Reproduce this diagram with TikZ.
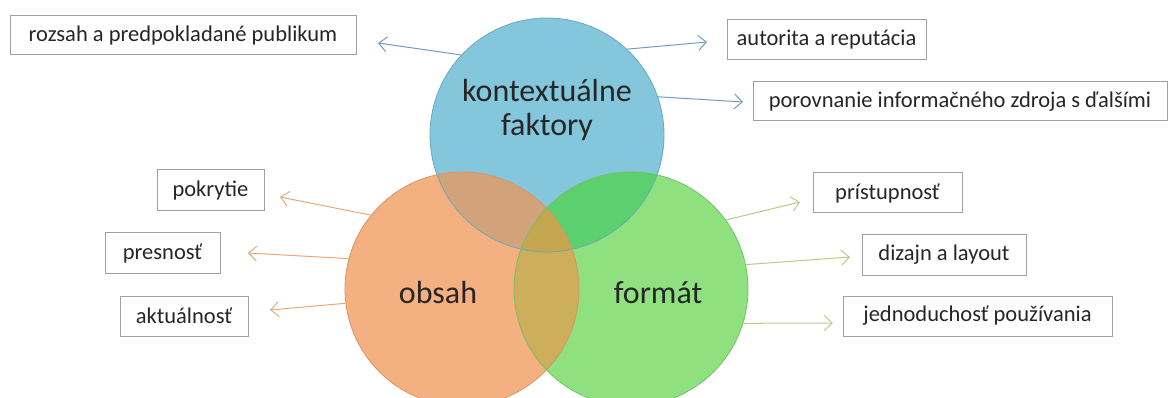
\documentclass[tikz,border=0pt]{standalone}
\usepackage{fontspec}
\setmainfont{Carlito}
\usetikzlibrary{arrows.meta}
\definecolor{cblue}{HTML}{84C6DC}
\definecolor{corange}{HTML}{F4B080}
\definecolor{cgreen}{HTML}{8FE07F}
\definecolor{cbo}{HTML}{D2A37A}
\definecolor{cbg}{HTML}{5CCF6F}
\definecolor{cog}{HTML}{CDAE5A}
\definecolor{cbog}{HTML}{C4A64E}
\definecolor{rimblue}{HTML}{6AA8BE}
\definecolor{rimorange}{HTML}{D8956A}
\definecolor{rimgreen}{HTML}{70C266}
\definecolor{arblue}{HTML}{6F9CC4}
\definecolor{arorange}{HTML}{E8A878}
\definecolor{argreen}{HTML}{B6CC8A}
\definecolor{boxline}{HTML}{A0A0A0}
\definecolor{ink}{HTML}{262626}
\tikzset{
  itembox/.style={draw=boxline, line width=1pt, fill=white, text=ink,
    font=\fontsize{22.5}{27}\selectfont, inner sep=0pt, minimum height=40pt},
  ring/.style={circle, inner sep=0pt, minimum size=234pt},
  bigtext/.style={text=ink, font=\fontsize{32}{38}\selectfont, align=center},
  link/.style={line width=1pt, -{Straight Barb[length=8pt,width=15pt,line width=1pt]}},
}
\begin{document}
\begin{tikzpicture}[x=1pt,y=-1pt]
\useasboundingbox (0,0) rectangle (1170,398);
\clip (0,0) rectangle (1170,398);

% circle centres and radius
\coordinate (B) at (547,135);
\coordinate (O) at (462,289);
\coordinate (G) at (631,289);
\def\rr{117}

% plain discs
\fill[cblue] (B) circle (\rr);
\fill[corange] (O) circle (\rr);
\fill[cgreen] (G) circle (\rr);
% overlaps
\begin{scope}
  \clip (B) circle (\rr);
  \fill[cbo] (O) circle (\rr);
  \fill[cbg] (G) circle (\rr);
\end{scope}
\begin{scope}
  \clip (O) circle (\rr);
  \fill[cog] (G) circle (\rr);
\end{scope}
\begin{scope}
  \clip (B) circle (\rr);
  \clip (O) circle (\rr);
  \fill[cbog] (G) circle (\rr);
\end{scope}

% outlined ring nodes
\node[ring, draw=rimblue, line width=0.8pt] (blue) at (B) {};
\node[ring, draw=rimorange, line width=0.8pt] (orange) at (O) {};
\node[ring, draw=rimgreen, line width=0.8pt] (green) at (G) {};

\node[bigtext] (tk) at (547,110) {kontextuálne\\[-4pt]faktory};
\node[bigtext] (to) at (438,293) {obsah};
\node[bigtext] (tf) at (658,293) {formát};

% item boxes
\node[itembox, minimum width=346pt, minimum height=39pt] (rozsah) at (183,35.5) {rozsah a predpokladané publikum};
\node[itembox, minimum width=199pt] (autorita) at (826.5,40) {autorita a reputácia};
\node[itembox, minimum width=414pt, minimum height=39pt] (porov) at (960,101.5) {porovnanie informačného zdroja s ďalšími};
\node[itembox, minimum width=107pt, minimum height=41pt] (pokr) at (210.5,190.5) {pokrytie};
\node[itembox, minimum width=115pt] (presn) at (162.5,253) {presnosť};
\node[itembox, minimum width=128pt] (aktu) at (184,316) {aktuálnosť};
\node[itembox, minimum width=149pt] (prist) at (887.5,193) {prístupnosť};
\node[itembox, minimum width=164pt] (dizajn) at (944,255) {dizajn a layout};
\node[itembox, minimum width=269pt] (jedn) at (977.5,316) {jednoduchosť používania};

% arrow tips in front of the boxes
\coordinate (tRozsah) at (378,43);
\coordinate (tAutor) at (707,42);
\coordinate (tPorov) at (743,102);
\coordinate (tPokr) at (280,197);
\coordinate (tPresn) at (248,253);
\coordinate (tAktu) at (270,310);
\coordinate (tPrist) at (800,202);
\coordinate (tDizajn) at (850,257);
\coordinate (tJedn) at (833,323);

% connectors
\draw[link, arblue] (blue.137) -- (tRozsah);
\draw[link, arblue] (blue.47) -- (tAutor);
\draw[link, arblue] (blue.19) -- (tPorov);
\draw[link, arorange] (orange.141) -- (tPokr);
\draw[link, arorange] (orange.165) -- (tPresn);
\draw[link, arorange] (orange.187) -- (tAktu);
\draw[link, argreen] (green.36) -- (tPrist);
\draw[link, argreen] (green.12) -- (tDizajn);
\draw[link, argreen] (green.343) -- (tJedn);
\end{tikzpicture}
\end{document}
